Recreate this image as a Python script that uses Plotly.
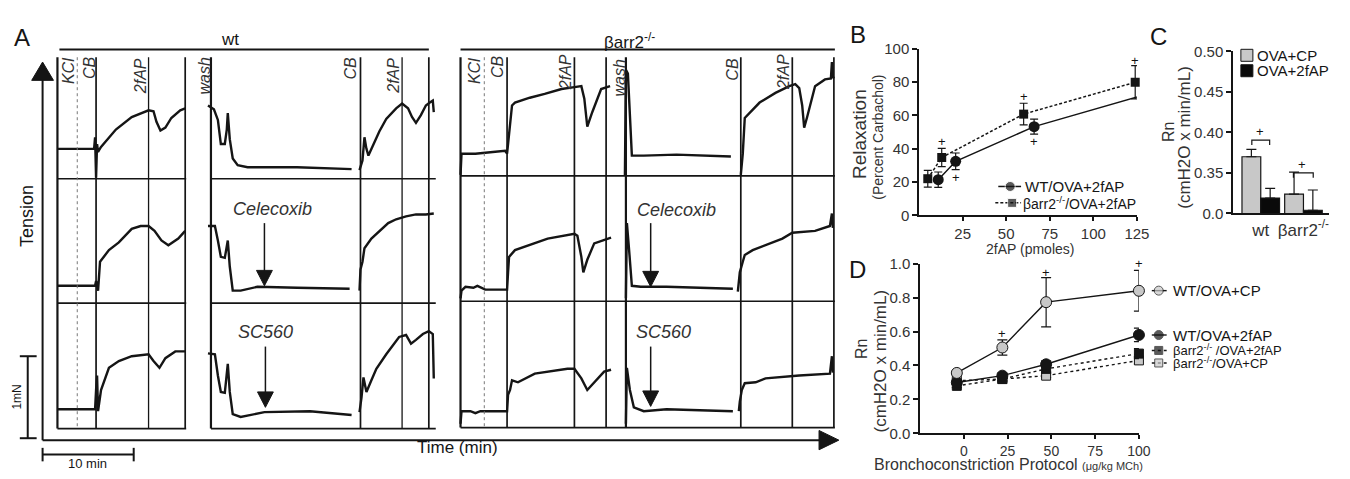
import plotly.graph_objects as go

W, H = 1350, 479
FONT = "Arial, Liberation Sans, sans-serif"
INK = "#151515"
LIGHT = "#c8c8c8"

# ---------------- Panel A: raw tension recordings (chart units: x along time, y down = lower tension)
# wt
wt1_x = [58, 95, 96, 97, 98, 99, 102, 107, 117, 133, 150, 155, 158, 162, 167, 173, 182, 187, None,
         210, 216, 220, 223, 227, 229, 230, 232, 235, 240, 250, 300, 355, None,
         363, 366, 368, 370, 372, 377, 383, 390, 400, 406, 412, 416, 420, 425, 430, 434, 437, 438]
wt1_y = [145, 145, 133, 175, 140, 148, 143, 137, 125, 112, 105, 106, 117, 126, 123, 113, 105, 103, None,
         100, 104, 115, 140, 140, 125, 108, 135, 155, 162, 164, 164, 166, None,
         167, 157, 133, 145, 152, 140, 127, 114, 103, 98, 103, 112, 118, 110, 100, 97, 95, 107]
wt2_x = [58, 96, 97, 99, 101, 104, 110, 120, 133, 142, 150, 156, 163, 170, 180, 187, None,
         210, 217, 220, 223, 227, 229, 230, 232, 235, 243, 260, 300, 353, None,
         363, 364, 366, 368, 375, 383, 392, 400, 410, 420, 430, 438]
wt2_y = [287, 287, 282, 292, 262, 258, 250, 242, 228, 225, 225, 230, 240, 245, 238, 230, None,
         225, 225, 240, 257, 258, 245, 240, 267, 292, 292, 288, 289, 290, None,
         292, 270, 262, 248, 238, 230, 222, 218, 215, 213, 213, 212]
wt3_x = [58, 96, 97, 98, 99, 102, 110, 120, 133, 150, 155, 161, 167, 177, 187, None,
         210, 217, 220, 223, 227, 229, 230, 232, 235, 243, 267, 313, 355, None,
         363, 365, 367, 370, 375, 380, 390, 403, 410, 415, 420, 427, 433, 437, 438]
wt3_y = [415, 415, 395, 380, 417, 395, 372, 365, 360, 358, 365, 372, 362, 355, 355, None,
         357, 358, 380, 397, 398, 380, 368, 397, 420, 423, 418, 417, 421, None,
         418, 403, 382, 397, 385, 373, 358, 340, 338, 347, 343, 337, 334, 337, 383]
# beta-arrestin-2 knockout
ko1_x = [465, 466, 468, 480, 490, 500, 510, 512, 513, 515, 517, 520, 535, 550, 567, 580, 587, 590, 593,
         598, 607, 616, None,
         631, 632, 634, 636, 638, 650, 683, 738, None,
         748, 750, 752, 755, 767, 783, 797, 803, 807, 810, 812, 815, 823, 833, 839, 840, 841, 842]
ko1_y = [172, 150, 150, 150, 149, 148, 147, 150, 140, 115, 100, 97, 92, 88, 83, 81, 80, 93, 122,
         107, 83, 80, None,
         172, 63, 67, 110, 152, 152, 151, 153, None,
         172, 150, 113, 110, 97, 87, 80, 78, 82, 100, 123, 112, 80, 73, 72, 55, 70, 72]
ko2_x = [465, 466, 470, 478, 482, 490, 510, 512, 513, 514, 520, 533, 553, 580, 583, 587, 589, 593, 600,
         617, None,
         632, 633, 635, 638, 647, 673, 740, None,
         745, 747, 750, 752, 760, 773, 790, 800, 823, 838, 840, 841]
ko2_y = [300, 292, 288, 289, 287, 291, 291, 291, 273, 257, 250, 245, 238, 233, 235, 257, 273, 260, 243,
         237, None,
         300, 222, 247, 287, 288, 288, 290, None,
         293, 273, 262, 255, 250, 245, 238, 232, 230, 225, 212, 227]
ko3_x = [465, 466, 475, 480, 485, 512, 513, 515, 517, 523, 540, 573, 580, 587, 593, 600, 610, 617, None,
         632, 633, 636, 640, 650, 673, 740, None,
         746, 747, 749, 752, 763, 773, 807, 838, 840, 841]
ko3_y = [430, 417, 417, 419, 417, 417, 400, 395, 385, 387, 378, 373, 373, 383, 395, 387, 376, 374, None,
         430, 372, 395, 413, 417, 415, 417, None,
         417, 407, 395, 388, 387, 383, 380, 378, 360, 377]

# ---------------- Panel B: relaxation vs 2fAP dose
B_wt_x = [11, 21, 66, 131]
B_wt_y = [21.4, 32.4, 53.2, 72.8]
B_wt_err = [4.6, 5.0, 4.5, 6.5]
B_ko_x = [5, 13, 60, 124]
B_ko_y = [22.0, 34.7, 60.7, 79.8]
B_ko_err = [5.0, 5.5, 6.5, 10.0]
B_plus_x = [13, 21, 60, 66, 124, 131]
B_plus_y = [44.5, 23, 71, 44, 93, 62]
B_xticks = [25, 50, 75, 100, 125]
B_yticks = [0, 20, 40, 60, 80, 100]

# ---------------- Panel C: Rn bars (axis broken: 0.0 then 0.35-0.50)
C_groups = ["wt", "βarr2"]
C_group_labels = ["wt", "βarr2<sup>-/-</sup>"]
C_cp = [0.370, 0.324]
C_cp_err = [0.009, 0.027]
C_fap = [0.319, 0.304]
C_fap_err = [0.012, 0.025]
C_break = 0.30
C_ytickvals = [0.30, 0.35, 0.40, 0.45, 0.50]
C_yticktext = ["0.0", "0.35", "0.40", "0.45", "0.50"]

# ---------------- Panel D: Rn vs MCh dose
D_x = [-4, 22, 47, 100]
D_wt_cp = [0.356, 0.506, 0.773, 0.84]
D_wt_cp_err = [0.012, 0.045, 0.145, 0.12]
D_wt_fap = [0.30, 0.34, 0.407, 0.58]
D_wt_fap_err = [0.01, 0.015, 0.02, 0.04]
D_ko_fap = [0.28, 0.32, 0.38, 0.47]
D_ko_fap_err = [0.01, 0.012, 0.02, 0.03]
D_ko_cp = [0.31, 0.32, 0.34, 0.43]
D_ko_cp_err = [0.01, 0.01, 0.012, 0.02]
D_plus_x = [22, 47, 100]
D_plus_y = [0.587, 0.95, 1.0]
D_xticks = [0, 25, 50, 75, 100]
D_yticks = [0.0, 0.2, 0.4, 0.6, 0.8, 1.0]


def fx(px):
    return px / W


def fy(py):
    return 1 - py / H


fig = go.Figure()
ann = []
shapes = []


def txt(x, y, s, size=15, angle=0, xanchor="center", italic=False, xref="x", yref="y", color=INK):
    ann.append(dict(x=x, y=y, xref=xref, yref=yref, text=(f"<i>{s}</i>" if italic else s),
                    showarrow=False, textangle=angle, xanchor=xanchor, yanchor="middle",
                    font=dict(family=FONT, size=size, color=color)))


def seg(x0, y0, x1, y1, w=1.5, color=INK, dash="solid"):
    shapes.append(dict(type="line", xref="x", yref="y", x0=x0, y0=y0, x1=x1, y1=y1,
                       line=dict(color=color, width=w, dash=dash), layer="above"))


def tri(pts, color=INK):
    path = "M " + " L ".join(f"{a},{b}" for a, b in pts) + " Z"
    shapes.append(dict(type="path", xref="x", yref="y", path=path, fillcolor=color,
                       line=dict(color=color, width=1), layer="above"))


# ---------------- Panel A drawing
for xs, ys in [(wt1_x, wt1_y), (wt2_x, wt2_y), (wt3_x, wt3_y),
               (ko1_x, ko1_y), (ko2_x, ko2_y), (ko3_x, ko3_y)]:
    fig.add_trace(go.Scatter(x=xs, y=ys, mode="lines", line=dict(color=INK, width=2.4),
                             connectgaps=False, hoverinfo="skip", xaxis="x", yaxis="y"))

# frames
for yb in [176, 305, 435]:
    seg(58, yb, 188, yb, 1.7)
    seg(213, yb, 440, yb, 1.7)
for yb in [173, 303, 434]:
    seg(465, yb, 843, yb, 1.7)
for xv, w in [(58, 2.2), (97, 1.7), (150, 1.3), (187, 1.7), (213, 2.2), (364, 1.7), (406, 1.3), (433, 1.7)]:
    seg(xv, 50, xv, 435, w)
seg(78, 50, 78, 435, 1, "#777777", "dot")
for xv, w in [(465, 2.2), (512, 1.7), (580, 1.7), (612, 1.7), (632, 2.2), (748, 1.7), (800, 1.7), (842, 1.7)]:
    seg(xv, 50, xv, 434, w)
seg(489, 50, 489, 434, 1, "#777777", "dot")

# group headers
seg(60, 42, 433, 42, 2)
seg(465, 42, 843, 42, 2)
txt(232, 32, "wt", 17)
txt(636, 33, "βarr2<sup>-/-</sup>", 17)

# axis arrows
seg(43, 447, 43, 70, 2)
tri([(32, 74), (43, 55), (54, 74)])
seg(43, 447, 830, 447, 2)
tri([(827, 437), (847, 447), (827, 457)])
txt(28, 215, "Tension", 18, -90)
txt(462, 455, "Time (min)", 17)

# scale bars
seg(28, 360, 28, 445, 2)
seg(20, 360, 37, 360, 2)
seg(20, 445, 37, 445, 2)
txt(17, 402, "1mN", 12, -90)
seg(43, 462, 135, 462, 2)
seg(43, 455, 43, 469, 2)
seg(135, 455, 135, 469, 2)
txt(88, 471, "10 min", 13)

# drug labels
for x, y, s in [(69, 64, "KCl"), (91, 61, "CB"), (142, 70, "2fAP"), (207, 70, "wash"),
                (354, 61, "CB"), (397, 69, "2fAP"),
                (479, 64, "KCl"), (503, 60, "CB"), (571, 66, "2fAP"), (626, 71, "wash"),
                (740, 62, "CB"), (791, 65, "2fAP")]:
    txt(x, y, s, 16, -90, italic=True, color="#333333")

# inhibitor arrows
for xa, txt_x, y_top, y_tip, lab, ylab in [(267, 275, 222, 287, "Celecoxib", 207),
                                            (657, 683, 222, 288, "Celecoxib", 208),
                                            (268, 268, 350, 413, "SC560", 335),
                                            (657, 670, 350, 412, "SC560", 335)]:
    seg(xa, y_top, xa, y_tip - 14, 1.5)
    tri([(xa - 8, y_tip - 16), (xa, y_tip), (xa + 8, y_tip - 16)])
    txt(txt_x, ylab, lab, 18, italic=True, color="#333333")

# panel letters
txt(22, 30, "A", 24)
txt(866, 26, "B", 24)
txt(1170, 28, "C", 24)
txt(866, 270, "D", 24)

# ---------------- Panel B
fig.add_trace(go.Scatter(x=B_ko_x, y=B_ko_y, mode="lines+markers",
                         line=dict(color=INK, width=1.5, dash="3px,2px"),
                         marker=dict(symbol="square", size=9, color=INK),
                         error_y=dict(type="data", array=B_ko_err, color=INK, thickness=1.2, width=4),
                         xaxis="x2", yaxis="y2", cliponaxis=False))
fig.add_trace(go.Scatter(x=B_wt_x, y=B_wt_y, mode="lines+markers",
                         line=dict(color=INK, width=1.5),
                         marker=dict(symbol="circle", size=11, color=INK),
                         error_y=dict(type="data", array=B_wt_err, color=INK, thickness=1.2, width=4),
                         xaxis="x2", yaxis="y2", cliponaxis=False))
for px_, py_ in zip(B_plus_x, B_plus_y):
    txt(px_, py_, "+", 13, xref="x2", yref="y2", color="#111111")
txt(868, 130, "Relaxation", 19, -90, color="#333333")
txt(887, 133, "(Percent Carbachol)", 14, -90, color="#333333")
txt(1040, 249, "2fAP (pmoles)", 14, color="#333333")
# legend B
fig.add_trace(go.Scatter(x=[1008, 1020, 1031], y=[184, 184, 184], mode="lines+markers",
                         line=dict(color=INK, width=1.5), marker=dict(size=[0, 10, 0], color=INK),
                         xaxis="x", yaxis="y", hoverinfo="skip"))
fig.add_trace(go.Scatter(x=[1005, 1022, 1031], y=[201, 201, 201], mode="lines+markers",
                         line=dict(color=INK, width=1.5, dash="3px,2px"),
                         marker=dict(size=[0, 9, 0], symbol="square", color=INK),
                         xaxis="x", yaxis="y", hoverinfo="skip"))
txt(1033, 184, "WT/OVA+2fAP", 15, xanchor="left")
txt(1031, 201, "βarr2<sup>-/-</sup>/OVA+2fAP", 14, xanchor="left")

# ---------------- Panel C
fig.add_trace(go.Bar(x=C_groups, y=[v - C_break for v in C_cp], base=C_break, name="OVA+CP",
                     marker=dict(color=LIGHT, line=dict(color=INK, width=1.2)),
                     error_y=dict(type="data", symmetric=False, array=C_cp_err, arrayminus=[0, 0],
                                  color=INK, thickness=1.2, width=5),
                     xaxis="x3", yaxis="y3"))
fig.add_trace(go.Bar(x=C_groups, y=[v - C_break for v in C_fap], base=C_break, name="OVA+2fAP",
                     marker=dict(color="#0a0a0a", line=dict(color=INK, width=1.2)),
                     error_y=dict(type="data", symmetric=False, array=C_fap_err, arrayminus=[0, 0],
                                  color=INK, thickness=1.2, width=5),
                     xaxis="x3", yaxis="y3"))
# significance brackets
shapes.append(dict(type="path", xref="x", yref="y", path="M 1264,141 L 1264,136 L 1282,136 L 1282,141",
                   line=dict(color=INK, width=1.2)))
shapes.append(dict(type="path", xref="x", yref="y", path="M 1306,175 L 1306,170 L 1326,170 L 1326,175",
                   line=dict(color=INK, width=1.2)))
txt(1272, 127, "+", 13, color="#111111")
txt(1315, 161, "+", 13, color="#111111")
# legend C
fig.add_trace(go.Scatter(x=[1259, 1259], y=[48, 64], mode="markers",
                         marker=dict(symbol="square", size=12, color=[LIGHT, "#0a0a0a"],
                                     line=dict(color=INK, width=1)),
                         xaxis="x", yaxis="y", hoverinfo="skip"))
txt(1267, 48, "OVA+CP", 15, xanchor="left")
txt(1267, 64, "OVA+2fAP", 15, xanchor="left")
txt(1180, 128, "Rn", 16, -90, color="#333333")
txt(1196, 133, "(cmH2O x min/mL)", 17, -90, color="#333333")

# ---------------- Panel D
for ys, es, sym, col, dash in [(D_ko_cp, D_ko_cp_err, "square", LIGHT, "dot"),
                               (D_ko_fap, D_ko_fap_err, "square", INK, "dot"),
                               (D_wt_fap, D_wt_fap_err, "circle", INK, "solid"),
                               (D_wt_cp, D_wt_cp_err, "circle", LIGHT, "solid")]:
    fig.add_trace(go.Scatter(x=D_x, y=ys, mode="lines+markers",
                             line=dict(color=INK, width=1.4, dash=dash),
                             marker=dict(symbol=sym, size=11 if sym == "circle" else 9, color=col,
                                         line=dict(color=INK, width=1)),
                             error_y=dict(type="data", array=es, color=INK, thickness=1.2, width=5),
                             xaxis="x4", yaxis="y4", cliponaxis=False))
for px_, py_ in zip(D_plus_x, D_plus_y):
    txt(px_, py_, "+", 13, xref="x4", yref="y4", color="#111111")
txt(870, 353, "Rn", 16, -90, color="#333333")
txt(889, 365, "(cmH2O x min/mL)", 17, -90, color="#333333")
txt(1018, 472, "Bronchoconstriction Protocol <span style='font-size:11px'>(μg/kg MCh)</span>", 16,
    color="#333333")
# legend D
for ly, sym, col, dash, lab, fs in [(292, "circle", LIGHT, "solid", "WT/OVA+CP", 15),
                                    (338, "circle", INK, "solid", "WT/OVA+2fAP", 15),
                                    (354, "square", INK, "dot", "βarr2<sup>-/-</sup> /OVA+2fAP", 13),
                                    (367, "square", LIGHT, "dot", "βarr2<sup>-/-</sup>/OVA+CP", 13)]:
    fig.add_trace(go.Scatter(x=[1163, 1170, 1178], y=[ly, ly, ly], mode="lines+markers",
                             line=dict(color=INK, width=1.4, dash=dash),
                             marker=dict(size=[0, 9 if sym == "circle" else 8, 0], symbol=sym, color=col,
                                         line=dict(color=INK, width=1)),
                             xaxis="x", yaxis="y", hoverinfo="skip"))
    txt(1182, ly, lab, fs, xanchor="left")

axis_style = dict(showline=True, linecolor=INK, linewidth=1.5, ticks="outside", ticklen=5,
                  tickwidth=1.5, tickcolor=INK, showgrid=False, zeroline=False, fixedrange=True,
                  tickfont=dict(family=FONT, size=15, color="#333333"))

fig.update_layout(
    width=W, height=H, margin=dict(l=0, r=0, t=0, b=0),
    paper_bgcolor="white", plot_bgcolor="rgba(0,0,0,0)", showlegend=False,
    barmode="group", bargap=0.12, bargroupgap=0.0,
    xaxis=dict(domain=[0, 1], range=[0, W], visible=False, fixedrange=True),
    yaxis=dict(domain=[0, 1], range=[H, 0], visible=False, fixedrange=True),
    xaxis2=dict(domain=[fx(928), fx(1148)], range=[0, 125], tickvals=B_xticks, anchor="y2",
                **{**axis_style, "ticklen": 4}),
    yaxis2=dict(domain=[fy(214), fy(41)], range=[0, 100], tickvals=B_yticks, anchor="x2", **axis_style),
    xaxis3=dict(domain=[fx(1245), fx(1342)], range=[-0.65, 1.6], tickvals=C_groups,
                ticktext=C_group_labels, anchor="y3",
                **{**axis_style, "ticks": "", "tickfont": dict(family=FONT, size=17, color="#333333")}),
    yaxis3=dict(domain=[fy(212), fy(44)], range=[C_break, 0.50], tickvals=C_ytickvals,
                ticktext=C_yticktext, anchor="x3", **axis_style),
    xaxis4=dict(domain=[fx(929), fx(1150)], range=[-25, 100], tickvals=D_xticks, anchor="y4",
                **{**axis_style, "ticklen": 4, "tickfont": dict(family=FONT, size=14, color="#333333")}),
    yaxis4=dict(domain=[fy(440), fy(264)], range=[0, 1.0], tickvals=D_yticks, tickformat=".1f",
                anchor="x4", **axis_style),
    annotations=ann, shapes=shapes,
)

fig.write_html("out.html", config={"displayModeBar": False},
               post_script="document.body.style.margin='0';document.body.style.overflow='hidden';")
